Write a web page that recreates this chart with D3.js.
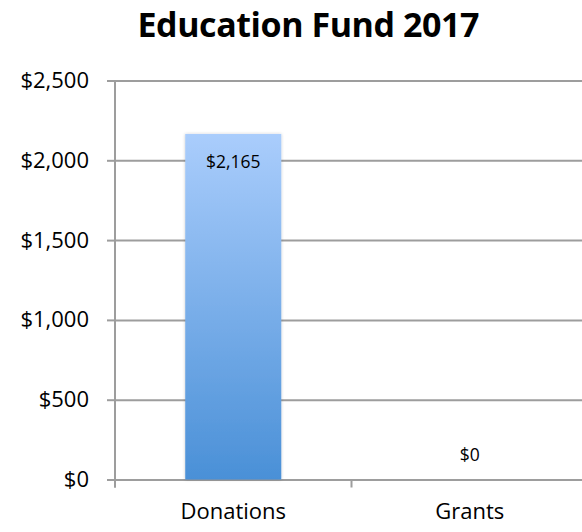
<!DOCTYPE html>
<html>
<head>
<meta charset="utf-8">
<script src="https://cdn.jsdelivr.net/npm/d3@7"></script>
<style>
  html, body { margin: 0; padding: 0; background: #fff; }
  svg { display: block; font-family: "Open Sans", "Noto Sans", sans-serif; }
</style>
</head>
<body>
<svg id="chart" width="582" height="532"></svg>
<script>
// Fund totals
const title = "Education Fund 2017";
const categories = ["Donations", "Grants"];
const amounts = [2165, 0];
const yTicks = [0, 500, 1000, 1500, 2000, 2500];

const svg = d3.select("#chart");
const W = 582, H = 532;
const plot = { left: 115, right: 588, top: 80.5, bottom: 479.5 };
const gridColor = "#9d9d9d";

const y = d3.scaleLinear().domain([0, 2500]).range([plot.bottom, plot.top]);
const x = d3.scaleBand().domain(categories).range([plot.left, plot.right]).padding(0);
const barW = x.bandwidth() * 0.406;
const money = v => "$" + d3.format(",")(v);

// gradient fill for the bars
const defs = svg.append("defs");
const grad = defs.append("linearGradient")
  .attr("id", "barGrad").attr("x1", 0).attr("y1", 0).attr("x2", 0).attr("y2", 1);
grad.append("stop").attr("offset", "0%").attr("stop-color", "#aacdfc");
grad.append("stop").attr("offset", "100%").attr("stop-color", "#4a90d7");
const shadow = defs.append("filter").attr("id", "barShadow")
  .attr("x", "-20%").attr("y", "-20%").attr("width", "140%").attr("height", "140%");
shadow.append("feDropShadow").attr("dx", 0).attr("dy", 0).attr("stdDeviation", 1.6)
  .attr("flood-color", "#000").attr("flood-opacity", 0.22);

// horizontal gridlines
svg.append("g")
  .attr("transform", `translate(${plot.left},0)`)
  .call(d3.axisLeft(y).tickValues(yTicks).tickSize(-(plot.right - plot.left)).tickFormat(""))
  .call(g => g.select(".domain").remove())
  .call(g => g.selectAll("line").attr("stroke", gridColor).attr("stroke-width", 2));

// y axis with tick stubs and labels
svg.append("g")
  .attr("transform", `translate(${plot.left},0)`)
  .call(d3.axisLeft(y).tickValues(yTicks).tickSize(8).tickPadding(18).tickFormat(money))
  .call(g => g.select(".domain").attr("d", `M0,${plot.top}V${plot.bottom + 8}`)
    .attr("stroke", gridColor).attr("stroke-width", 2))
  .call(g => g.selectAll("line").attr("stroke", gridColor).attr("stroke-width", 2))
  .call(g => g.selectAll("text").attr("fill", "#000")
    .style("font-size", "22px").style("font-family", "'Open Sans', sans-serif"));

// category boundary ticks on the baseline
svg.append("g").selectAll("line")
  .data(categories)
  .join("line")
  .attr("x1", d => x(d)).attr("x2", d => x(d))
  .attr("y1", plot.bottom).attr("y2", plot.bottom + 8)
  .attr("stroke", gridColor).attr("stroke-width", 2);

// category labels
svg.append("g")
  .attr("transform", `translate(0,${plot.bottom})`)
  .call(d3.axisBottom(x).tickSize(0).tickPadding(24))
  .call(g => g.select(".domain").remove())
  .call(g => g.selectAll("text").attr("fill", "#000")
    .style("font-size", "22px").style("font-family", "'Open Sans', sans-serif"));

// bars
svg.append("g").selectAll("rect")
  .data(categories)
  .join("rect")
  .attr("x", d => x(d) + (x.bandwidth() - barW) / 2)
  .attr("width", barW)
  .attr("y", (d, i) => y(amounts[i]))
  .attr("height", (d, i) => y(0) - y(amounts[i]))
  .attr("fill", "url(#barGrad)")
  .attr("filter", "url(#barShadow)");

// value labels: inside the top of tall bars, above short ones
svg.append("g").selectAll("text")
  .data(categories)
  .join("text")
  .attr("x", d => x(d) + x.bandwidth() / 2)
  .attr("y", (d, i) => {
    const top = y(amounts[i]);
    return (y(0) - top) > 60 ? top + 34 : top - 19;
  })
  .attr("text-anchor", "middle")
  .attr("fill", "#000")
  .style("font-size", "17.5px")
  .text((d, i) => money(amounts[i]));

// title, tightened to its target width
const titleWidth = 342;
const t = svg.append("text")
  .attr("x", 308.5).attr("y", 36.5)
  .attr("text-anchor", "middle")
  .attr("fill", "#000")
  .style("font-size", "34px").style("font-weight", "700")
  .text(title);
const natural = t.node().getComputedTextLength();
const spacing = (titleWidth - natural) / (title.length - 1);
t.style("letter-spacing", spacing + "px")
  .attr("x", 308.5 + spacing / 2);
</script>
</body>
</html>
